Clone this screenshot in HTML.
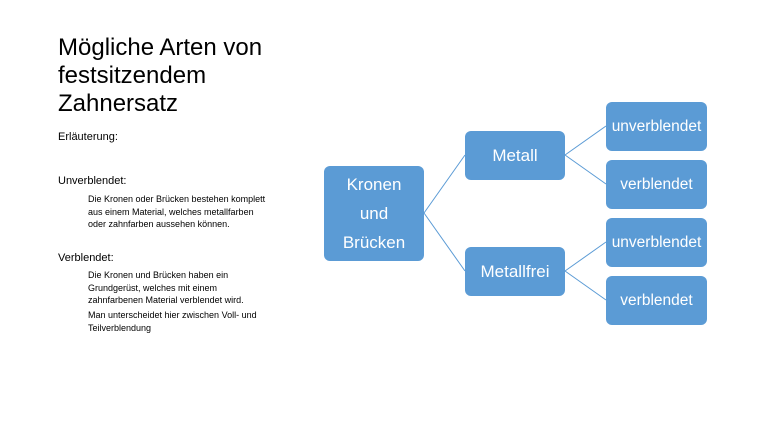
<!DOCTYPE html>
<html><head><meta charset="utf-8"><style>
body{margin:0;width:759px;height:427px;background:#fff;position:relative;font-family:"Liberation Sans",sans-serif;overflow:hidden}
.t{position:absolute;color:#000;white-space:nowrap}
.b{position:absolute;background:#5b9bd5;border-radius:6px;color:#fff;display:flex;align-items:center;justify-content:center;text-align:center;font-size:17px}
</style></head><body>
<div class="t" style="left:58px;top:34px;font-size:24px;line-height:28px">Mögliche Arten von<br>festsitzendem<br>Zahnersatz</div>
<div class="t" style="left:58px;top:131px;font-size:11px">Erläuterung:</div>
<div class="t" style="left:58px;top:175px;font-size:11px">Unverblendet:</div>
<div class="t" style="left:88px;top:193px;font-size:9px;line-height:12.5px">Die Kronen oder Brücken bestehen komplett<br>aus einem Material, welches metallfarben<br>oder zahnfarben aussehen können.</div>
<div class="t" style="left:58px;top:252px;font-size:11px">Verblendet:</div>
<div class="t" style="left:88px;top:269px;font-size:9px;line-height:12.5px">Die Kronen und Brücken haben ein<br>Grundgerüst, welches mit einem<br>zahnfarbenen Material verblendet wird.</div>
<div class="t" style="left:88px;top:309px;font-size:9px;line-height:12.5px">Man unterscheidet hier zwischen Voll- und<br>Teilverblendung</div>
<svg style="position:absolute;left:0;top:0" width="759" height="427"><g stroke="#5b9bd5" stroke-width="1" fill="none">
<path d="M424 213 L465 155 M424 213 L465 271 M565 155 L606 126 M565 155 L606 184 M565 271 L606 242 M565 271 L606 300"/></g></svg>
<div class="b" style="left:324px;top:166px;width:100px;height:95px;line-height:29px">Kronen<br>und<br>Brücken</div>
<div class="b" style="left:465px;top:131px;width:100px;height:49px">Metall</div>
<div class="b" style="left:465px;top:247px;width:100px;height:49px">Metallfrei</div>
<div class="b" style="left:606px;top:102px;width:101px;height:49px;font-size:15.5px">unverblendet</div>
<div class="b" style="left:606px;top:160px;width:101px;height:49px;font-size:15.5px">verblendet</div>
<div class="b" style="left:606px;top:218px;width:101px;height:49px;font-size:15.5px">unverblendet</div>
<div class="b" style="left:606px;top:276px;width:101px;height:49px;font-size:15.5px">verblendet</div>
</body></html>
